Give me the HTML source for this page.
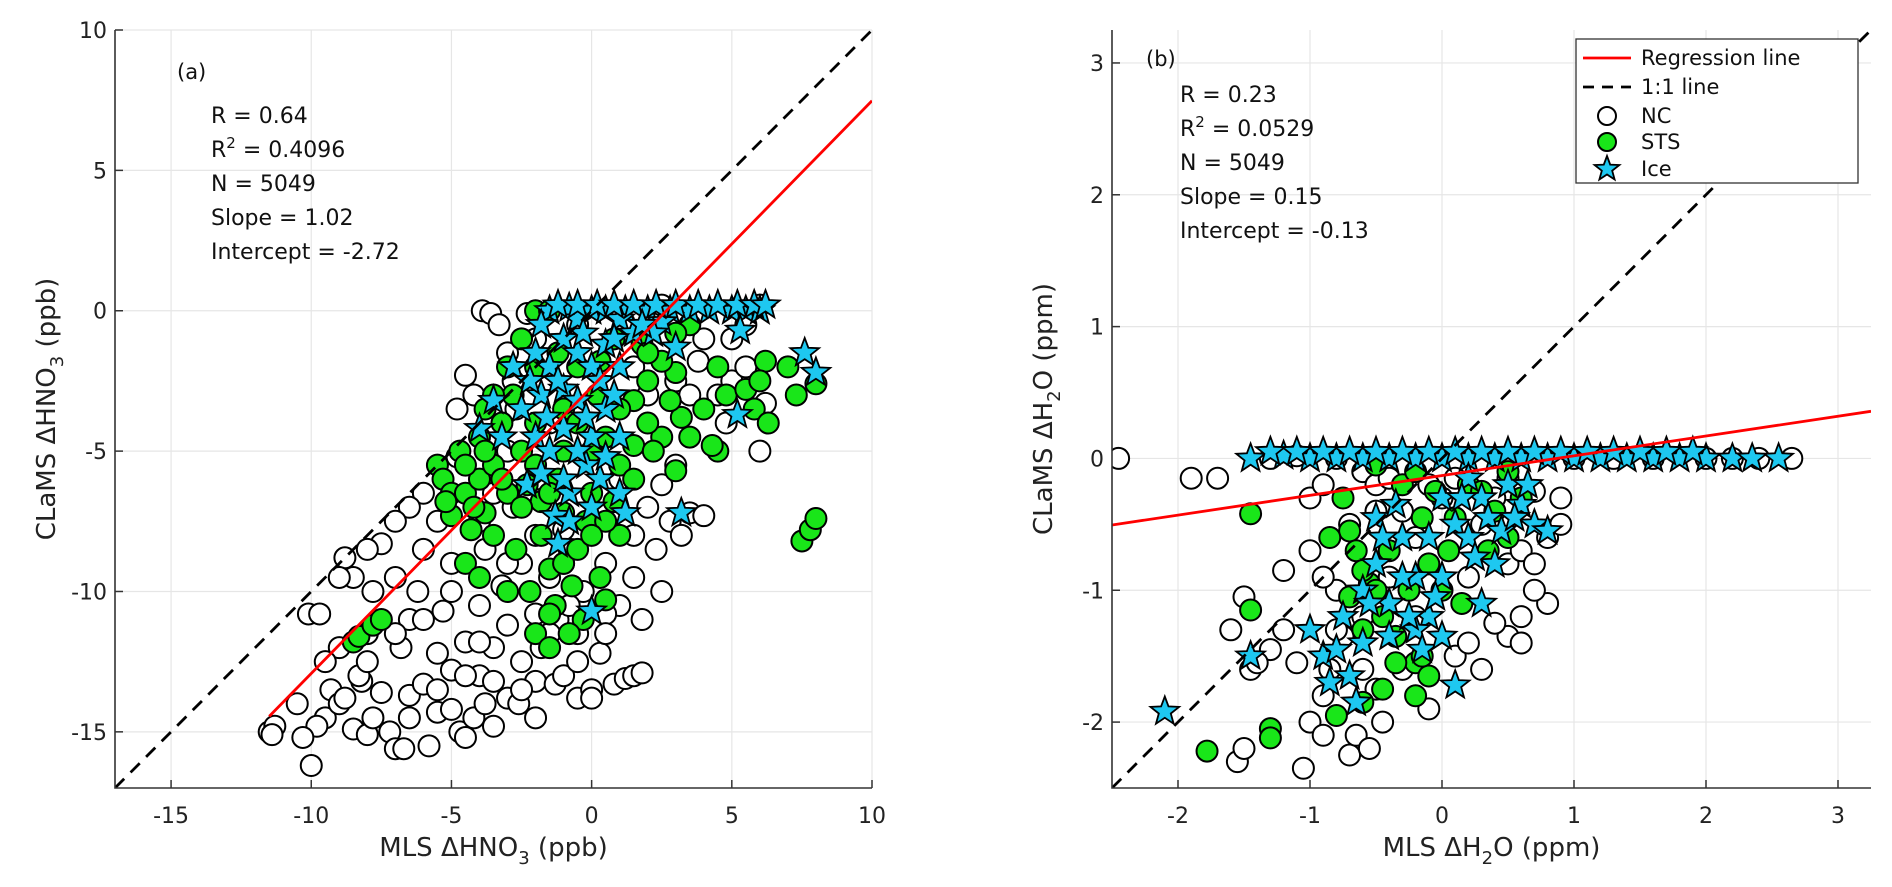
<!DOCTYPE html>
<html><head><meta charset="utf-8"><style>
body{margin:0;background:#fff}
svg{display:block;font-family:"DejaVu Sans","Liberation Sans",sans-serif}
</style></head><body>
<svg id="chart" width="1892" height="887" viewBox="0 0 1892 887" xmlns="http://www.w3.org/2000/svg">
<g id="pa"></g>
<g id="pb"></g>
</svg>
<script>
const aTicksX=[-15,-10,-5,0,5,10];
const aTicksY=[-15,-10,-5,0,5,10];
const bTicksX=[-2,-1,0,1,2,3];
const bTicksY=[-2,-1,0,1,2,3];
const aNC=[-11.5,-15,-11.3,-14.8,-11.4,-15.1,-10,-16.2,-10.1,-10.8,-9.7,-10.8,-9.5,-14.5,-9.3,-13.5,-9.0,-12.0,-9.0,-14.0,-8.8,-8.8,-8.5,-9.5,-8.5,-14.9,-8.0,-15.1,-8.2,-13.2,-8.0,-11.5,-7.8,-10.0,-7.5,-13.6,-7.2,-15.0,-7.5,-8.3,-7.0,-9.5,-7.0,-15.6,-6.7,-15.6,-6.8,-12.0,-6.5,-13.7,-6.5,-11.0,-6.2,-10.0,-6.0,-6.5,-6.0,-13.3,-6.0,-8.5,-5.8,-15.5,-5.5,-12.2,-5.5,-14.3,-5.5,-7.5,-5.3,-10.7,-5.0,-14.2,-5.0,-12.8,-5.0,-9.0,-4.8,-5.2,-4.7,-15.0,-4.5,-11.8,-4.5,-2.3,-4.8,-3.5,-4.2,-14.5,-4.0,-13.0,-4.0,-10.5,-3.9,0,-3.6,-0.1,-3.8,-8.5,-3.5,-14.8,-3.5,-12.0,-3.2,-9.8,-3.0,-13.8,-3.0,-11.2,-2.8,-7.0,-2.6,-14.0,-2.5,-12.5,-2.5,-9.0,-2.3,-0.1,-2.0,-13.2,-2.0,-10.8,-1.8,-12.0,-1.5,-9.5,-1.3,-13.3,-1.2,-11.0,-1.0,-13.0,-0.8,-8.5,-0.5,-13.8,-0.5,-11.5,-0.3,-10.0,0,-13.5,0,-13.8,0.3,-12.2,0.5,-9.0,0.8,-13.3,1.0,-10.5,1.2,-13.1,1.5,-13.0,1.8,-12.9,1.5,-8.0,2.0,-7.0,2.3,-8.5,2.8,-7.5,3.2,-8.0,3.5,-7.2,4.0,-7.3,2.5,-6.2,1.0,-6.0,3.0,-5.5,6.0,-5.0,6.2,-3.3,5.0,-2.5,4.8,-4.0,0,-7.5,-1,-7.8,-2,-6,-3,-5,-3.5,-6.5,-4,-7.5,-1.5,-4,-2.8,-2.5,-3,-1.5,-2,-1,4,-1,3,-2.5,2,-3,5.5,-0.5,6,0.2,2.5,0.2,0.5,-10.8,-0.8,-10.5,-8.3,-13.0,-9.8,-14.8,-10.3,-15.2,
-6.5,-7,-7,-7.5,-8,-8.5,-9,-9.5,-8,-12.5,-7,-11.5,-6,-11,-5,-10,-4,-11.8,-3,-9,-2,-8,-1,-9,-6.5,-14.5,-5.5,-13.5,-4.5,-13,-3.5,-13.2,-2.5,-13.5,-1.5,-11.5,-0.5,-12.5,0.5,-11.5,1.5,-9.5,2.5,-10,1.8,-11,-9.5,-12.5,-10.5,-14,-8.8,-13.8,-7.8,-14.5,-3.8,-14,-4.5,-15.2,-2,-14.5,3.5,-3,4.5,-3,5.5,-2,5,-1,3.8,-1.8,1.5,-2,-0.5,-0.5,-3.3,-0.5,-2.7,-3.5,-4.2,-3];
const aSTS=[-8.5,-11.8,-8.3,-11.6,-7.8,-11.2,-7.5,-11.0,-5.5,-5.5,-5.3,-6.0,-5.0,-6.5,-5.0,-7.3,-4.7,-5.0,-4.5,-6.5,-4.3,-7.8,-4.0,-4.5,-4.0,-6.0,-3.8,-7.2,-3.5,-8.0,-3.5,-5.5,-3.2,-4.0,-3.0,-6.5,-2.8,-3.0,-2.7,-8.5,-2.5,-5.0,-2.3,-6.2,-2.2,-10.0,-2.0,-11.5,-2.0,-4.0,-1.8,-8.0,-1.5,-12.0,-1.5,-9.2,-1.2,-6.0,-1.0,-3.5,-1.0,-7.2,-0.7,-9.8,-0.5,-2.0,-0.3,-11.0,0.3,-9.5,0.5,-10.3,0,-5,0.5,-4.5,1.0,-5.5,1.5,-4.8,1.5,-3.2,2.0,-2.5,2.5,-4.5,3.0,-2.2,3.2,-3.8,3.0,-5.7,2.2,-5.0,2.5,-1.8,4.5,-5.0,4.3,-4.8,5.8,-3.5,6.3,-4.0,7.3,-3.0,7.0,-2.0,8.0,-2.6,7.5,-8.2,7.8,-7.8,8.0,-7.4,6.2,-1.8,-2.0,0,-1.5,0,-3,-2,-3.5,-3,-2,-2,0.8,-1,1.8,-1.2,-0.2,-7.5,-1.8,-6.8,0.2,-3,3.5,-0.5,4.5,-2,1,-8,-4.5,-9,-4,-9.5,-3,-10,0.8,-6.8,
-4.5,-5.5,-3.8,-5,-3.2,-6,-2.5,-7,-2,-5.5,-1.5,-6.5,-1,-5,-0.5,-4,0,-6.5,0.5,-7.5,1,-3.5,2,-4,2.8,-3.2,3.5,-4.5,4,-3.5,4.8,-3,5.5,-2.8,6,-2.5,-1,-9,-0.5,-8.5,-1.3,-10.5,0,-8,1.5,-6,2,-1.5,3,-0.8,-2.5,-1,-1.2,-1.5,0.3,-1.8,-3.8,-3.5,-5.2,-6.8,-4.2,-7,-0.8,-11.5,-1.5,-10.8];
const aIce=[-1.5,0,-0.8,0.1,0,0,0.5,0,1.2,0,2,0,2.8,0,3.5,0,4.2,0,5,0,5.5,0,6,0,-0.5,-0.3,1,-0.3,2.5,-0.4,-2,-1.5,-1.5,-2,-1,-1,-0.5,-1.5,0,-2,0.5,-1.2,-1,-2.8,-1.8,-3,-0.5,-3.2,0.3,-2.5,1,-2,-2.5,-3.5,-2,-4.5,-1,-4.2,0,-4.5,-0.2,-5.5,1,-4.5,-1.5,-5,0.3,-6,-0.8,-6.5,-2.3,-6.2,-1.3,-7.3,-0.8,-7.5,-1.2,-8.3,1,-6.5,1.2,-7.2,-4,-4.2,-3.2,-4.5,0,-10.7,3.2,-7.2,5.2,-3.7,5.3,-0.7,7.6,-1.5,8,-2.2,2.2,-0.8,3,-1.3,1.5,-0.8,-3.5,-3.2,-2.8,-2,0.5,-3.5,
-1.2,0.2,-0.5,0.2,0.2,0.2,0.8,0.2,1.5,0.2,2.3,0.2,3,0.2,3.8,0.2,4.5,0.2,5.2,0.2,5.8,0.2,6.2,0.2,-0.3,-0.8,0.8,-1,1.8,-0.5,-1.8,-0.5,-1.2,-2.5,-0.2,-3.8,0.8,-3,-2.2,-2.5,-1.6,-3.8,-0.5,-5,0.5,-5.2,-1,-6,0,-7,-1.8,-5.8];
const bNC=[-2.45,0,-1.9,-0.15,-1.7,-0.15,-1.45,-1.6,-1.5,-1.05,-1.6,-1.3,-1.55,-2.3,-1.5,-2.2,-1.3,-1.45,-1.2,-1.3,-1.1,-1.55,-1.05,-2.35,-1.0,-2.0,-1.2,-0.85,-1.0,-0.7,-0.9,-2.1,-0.85,-1.6,-0.7,-2.25,-0.75,-1.35,-0.6,-1.2,-0.5,-1.75,-0.45,-2.0,-0.3,-1.6,0.1,-1.5,-0.2,-1.2,0.5,-1.35,0.6,-1.2,0.8,-1.1,0.7,-1.0,0.5,-0.8,0.8,-0.6,0.9,-0.5,-1.0,-0.3,-0.9,-0.2,-0.7,-0.5,-0.6,-0.1,0.4,-0.3,0.7,-0.25,1.0,0,1.3,0,1.6,0,2.0,0,2.2,0,2.4,0,2.65,0,-1.3,0,-1.1,0.02,-0.8,0,-0.4,-0.9,-0.2,-0.6,0.2,-0.9,0.0,-0.3,-0.5,-0.4,0.3,-1.6,-0.1,-1.9,-0.6,-1.6,0.6,-1.4,
-0.8,-1.0,-0.9,-0.9,-0.3,-0.4,-0.1,-0.2,0.3,-0.5,0.6,-0.7,0.7,-0.8,0.9,-0.3,-0.5,-0.2,-0.4,-0.15,0.1,-0.15,0.5,-0.15,-0.65,-2.1,-0.55,-2.2,-1.4,-1.55,0.4,-1.25,0.2,-1.4,-0.9,-1.8,-0.8,-1.3];
const bSTS=[-1.45,-0.42,-1.45,-1.15,-1.78,-2.22,-1.3,-2.05,-1.3,-2.12,-0.8,-1.95,-0.6,-1.85,-0.45,-1.75,-0.2,-1.55,-0.1,-1.65,-0.15,-1.5,-0.75,-0.3,-0.7,-0.55,-0.65,-0.7,-0.55,-0.95,-0.45,-1.2,-0.35,-1.35,-0.3,-0.2,-0.1,-0.8,0.0,-1.0,0.1,-0.45,0.2,-0.2,0.5,-0.6,0.3,-0.25,-0.5,-0.05,-0.2,-0.1,0.5,-0.1,-0.85,-0.6,-0.6,-1.3,0.35,-0.7,
-0.5,-1.0,-0.4,-0.7,-0.25,-1.0,-0.15,-0.45,0.05,-0.7,0.15,-1.1,-0.6,-0.85,-0.7,-1.05,-0.2,-1.8,-0.35,-1.55,0.4,-0.4,0.6,-0.3,-0.05,-0.25];
const bIce=[-1.45,0,-1.2,0.02,-1.0,0,-0.8,0,-0.6,0,-0.4,0,-0.2,0,0,0,0.2,0,0.4,0,0.6,0,0.8,0,1.0,0,1.2,0,1.4,0,1.6,0,1.8,0,2.0,0,2.2,0,2.35,0,2.55,0,-2.1,-1.92,-1.45,-1.5,-1.0,-1.3,-0.9,-1.5,-0.85,-1.7,-0.7,-1.65,-0.65,-1.85,-0.75,-1.2,-0.6,-1.0,-0.5,-0.8,-0.3,-0.6,-0.2,-0.9,-0.1,-1.2,0.1,-1.72,0.1,-0.5,0.3,-0.3,0.4,-0.8,0.6,-0.35,0.7,-0.5,0.8,-0.55,0.5,-0.2,0.0,-0.3,-0.4,-1.35,-0.2,-1.3,0.3,-1.1,0.2,-0.15,-0.5,-0.45,0.65,-0.2,
-1.3,0.05,-1.1,0.05,-0.9,0.05,-0.7,0.05,-0.5,0.05,-0.3,0.05,-0.1,0.05,0.1,0.05,0.3,0.05,0.5,0.05,0.7,0.05,0.9,0.05,1.1,0.05,1.3,0.05,1.5,0.05,1.7,0.05,1.9,0.05,-0.6,-1.4,-0.4,-1.1,-0.3,-0.9,-0.1,-0.6,0.0,-0.9,0.2,-0.6,0.35,-0.45,0.45,-0.55,-0.05,-1.05,-0.25,-1.2,-0.45,-0.6,-0.35,-0.35,0.15,-0.3,-0.55,-1.1,-0.15,-1.45,0.0,-1.35,-0.8,-1.45,0.55,-0.45,0.25,-0.75];
const aStats=["R = 0.64","R² = 0.4096","N = 5049","Slope = 1.02","Intercept = -2.72"];
const bStats=["R = 0.23","R² = 0.0529","N = 5049","Slope = 0.15","Intercept = -0.13"];
const aReg=[1.02,-2.72,-11.5,10];
const bReg=[0.15,-0.13,-2.5,3.25];
const legendLabels=["Regression line","1:1 line","NC","STS","Ice"];

const NS="http://www.w3.org/2000/svg";
function mk(p,t,a){const e=document.createElementNS(NS,t);for(const k in a)e.setAttribute(k,a[k]);p.appendChild(e);return e;}
function starPath(cx,cy,R){let d="";const r=R*0.42;for(let i=0;i<10;i++){const rr=i%2?r:R;const a=-Math.PI/2+i*Math.PI/5;d+=(i?"L":"M")+(cx+rr*Math.cos(a)).toFixed(1)+","+(cy+rr*Math.sin(a)).toFixed(1);}return d+"Z";}

function panel(g,o){
  const sx=v=>o.L+(v-o.x0)/(o.x1-o.x0)*(o.R-o.L);
  const sy=v=>o.B-(v-o.y0)/(o.y1-o.y0)*(o.B-o.T);
  const clip=mk(g,'clipPath',{id:'c'+o.id});mk(clip,'rect',{x:o.L,y:o.T,width:o.R-o.L,height:o.B-o.T});
  o.tx.forEach(t=>{const l=mk(g,'line',{x1:sx(t),x2:sx(t),y1:o.T,y2:o.B,stroke:'#e6e6e6','stroke-width':1.2});
    const k=mk(g,'line',{x1:sx(t),x2:sx(t),y1:o.B,y2:o.B-8,stroke:'#333','stroke-width':1.5});
    const tx=mk(g,'text',{x:sx(t),y:o.B+35,'text-anchor':'middle','font-size':22,fill:'#222'});tx.textContent=t;});
  o.ty.forEach(t=>{const l=mk(g,'line',{x1:o.L,x2:o.R,y1:sy(t),y2:sy(t),stroke:'#e6e6e6','stroke-width':1.2});
    const k=mk(g,'line',{x1:o.L,x2:o.L+8,y1:sy(t),y2:sy(t),stroke:'#333','stroke-width':1.5});
    const tx=mk(g,'text',{x:o.L-8,y:sy(t)+8,'text-anchor':'end','font-size':22,fill:'#222'});tx.textContent=t;});
  const pts=mk(g,'g',{'clip-path':'url(#c'+o.id+')'});
  for(let i=0;i<o.nc.length;i+=2){const c=mk(pts,'circle',{cx:sx(o.nc[i]),cy:sy(o.nc[i+1]),r:10.5,fill:'#fff',stroke:'#000','stroke-width':2});}
  for(let i=0;i<o.sts.length;i+=2){const c=mk(pts,'circle',{cx:sx(o.sts[i]),cy:sy(o.sts[i+1]),r:10.5,fill:'#19e619',stroke:'#000','stroke-width':2});}
  for(let i=0;i<o.ice.length;i+=2){const c=mk(pts,'path',{d:starPath(sx(o.ice[i]),sy(o.ice[i+1]),15),fill:'#1ec8f0',stroke:'#000','stroke-width':1.8});}
  const lo=Math.max(o.x0,o.y0),hi=Math.min(o.x1,o.y1);
  const d1=mk(g,'line',{x1:sx(lo),y1:sy(lo),x2:sx(hi),y2:sy(hi),stroke:'#000','stroke-width':2.8,'stroke-dasharray':'13,9','clip-path':'url(#c'+o.id+')'});
  const rg=o.reg;const r1=mk(g,'line',{x1:sx(rg[2]),y1:sy(rg[0]*rg[2]+rg[1]),x2:sx(rg[3]),y2:sy(rg[0]*rg[3]+rg[1]),stroke:'#f00','stroke-width':2.8,'clip-path':'url(#c'+o.id+')'});
  const ax=mk(g,'path',{d:`M${o.L},${o.T}V${o.B}H${o.R}`,fill:'none',stroke:'#333','stroke-width':1.6});
  const pl=mk(g,'text',{x:o.plx,y:o.ply,'font-size':21,fill:'#111'});pl.textContent=o.plabel;
  o.stats.forEach((s,i)=>{const t=mk(g,'text',{x:o.stx,y:o.sty+i*34,'font-size':22,fill:'#111'});
    if(s.indexOf('²')>=0){t.textContent='R';const sp=mk(t,'tspan',{dy:-9,'font-size':15});sp.textContent='2';const sp2=mk(t,'tspan',{dy:9});sp2.textContent=s.slice(2);}else t.textContent=s;
    });
  const xl=mk(g,'text',{x:(o.L+o.R)/2,y:o.B+68,'text-anchor':'middle','font-size':26,fill:'#222'});
  xl.appendChild(document.createTextNode(o.xt[0]));const s1=mk(xl,'tspan',{dy:8,'font-size':18});s1.textContent=o.xt[1];const s2=mk(xl,'tspan',{dy:-8});s2.textContent=o.xt[2];
  const cy=(o.T+o.B)/2;const yl=mk(g,'text',{x:0,y:0,transform:`translate(${o.L-60},${cy}) rotate(-90)`,'text-anchor':'middle','font-size':26,fill:'#222'});
  yl.appendChild(document.createTextNode(o.yt[0]));const s3=mk(yl,'tspan',{dy:8,'font-size':18});s3.textContent=o.yt[1];const s4=mk(yl,'tspan',{dy:-8});s4.textContent=o.yt[2];
}
panel(document.getElementById('pa'),{id:'a',L:115,R:872,T:30,B:788,x0:-17,x1:10,y0:-17,y1:10,tx:aTicksX,ty:aTicksY,nc:aNC,sts:aSTS,ice:aIce,reg:aReg,stats:aStats,plabel:'(a)',plx:177,ply:79,stx:211,sty:123,xt:['MLS ΔHNO','3',' (ppb)'],yt:['CLaMS ΔHNO','3',' (ppb)']});
panel(document.getElementById('pb'),{id:'b',L:1112,R:1871,T:30,B:788,x0:-2.5,x1:3.25,y0:-2.5,y1:3.25,tx:bTicksX,ty:bTicksY,nc:bNC,sts:bSTS,ice:bIce,reg:bReg,stats:bStats,plabel:'(b)',plx:1146,ply:66,stx:1180,sty:102,xt:['MLS ΔH','2','O (ppm)'],yt:['CLaMS ΔH','2','O (ppm)']});
const pb=document.getElementById('pb');
const lg=mk(pb,'g',{});
mk(lg,'rect',{x:1576,y:39,width:282,height:144,fill:'#fff',stroke:'#333','stroke-width':1.3});
const ly=[58,87,116,142,169];
legendLabels.forEach((lab,i)=>{const y=ly[i];
  if(i==0)mk(lg,'line',{x1:1583,x2:1631,y1:y,y2:y,stroke:'#f00','stroke-width':2.8});
  if(i==1)mk(lg,'line',{x1:1583,x2:1631,y1:y,y2:y,stroke:'#000','stroke-width':2.8,'stroke-dasharray':'11,8'});
  if(i==2)mk(lg,'circle',{cx:1607,cy:y,r:9,fill:'#fff',stroke:'#000','stroke-width':2});
  if(i==3)mk(lg,'circle',{cx:1607,cy:y,r:9,fill:'#19e619',stroke:'#000','stroke-width':2});
  if(i==4)mk(lg,'path',{d:starPath(1607,y,13),fill:'#1ec8f0',stroke:'#000','stroke-width':1.8});
  const t=mk(lg,'text',{x:1641,y:y+7,'font-size':21,fill:'#111'});t.textContent=lab;});
</script>
</body></html>
